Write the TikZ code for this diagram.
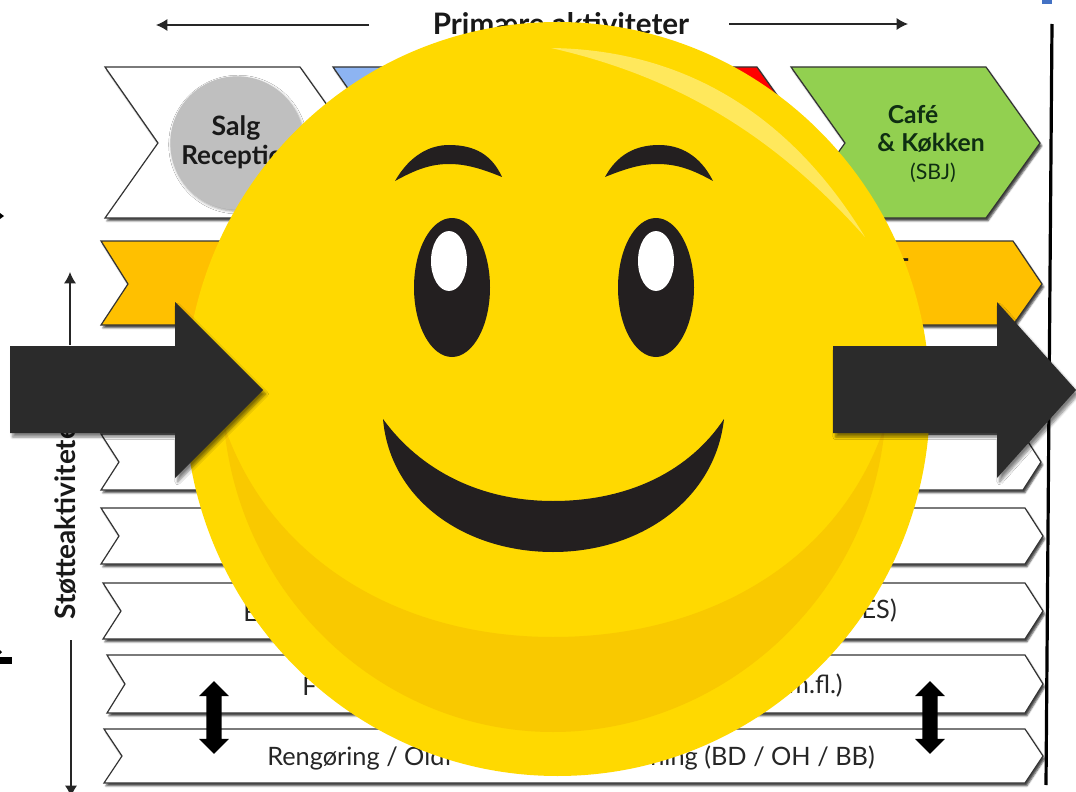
\documentclass[tikz,border=0pt]{standalone}
\usepackage{fontspec}
\setmainfont{Lato}
\usepackage{tikz}
\usetikzlibrary{shapes.arrows,arrows.meta,shadows.blur}
\definecolor{faceyellow}{HTML}{FFD900}
\definecolor{facefold}{HTML}{F9C900}
\definecolor{faceshine}{HTML}{FFE85C}
\definecolor{faceink}{HTML}{231F20}
\definecolor{bigarrow}{HTML}{2B2B2B}
\definecolor{bandblue}{HTML}{8DB4F2}
\definecolor{bandgreen}{HTML}{92D050}
\definecolor{bandorange}{HTML}{FFC000}
\definecolor{greentext}{HTML}{0F2E12}
\definecolor{cornerblue}{HTML}{4472C4}

\begin{document}
\begin{tikzpicture}[
  x=.75pt, y=-.75pt,
  band/.style={draw=black!80, line width=.9pt, line join=miter, blur shadow={shadow xshift=1.4pt, shadow yshift=-2.2pt, shadow blur steps=4, shadow opacity=70, shadow blur radius=1.2pt}},
  flow/.style={draw=black!85, line width=.9pt, -{Latex[length=8.5pt,width=9pt]}},
  bold/.style={font=\fontsize{18.5}{20}\selectfont\bfseries, text=black!90, inner sep=0pt},
  rowtext/.style={font=\fontsize{19}{20}\selectfont, text=black!85, inner sep=0pt},
  swap/.style={double arrow, rotate=90, fill=black, inner sep=0pt, minimum height=54.5pt, text height=11pt, text depth=0pt, double arrow head extend=5.5pt},
  bigpush/.style={fill=bigarrow, blur shadow={shadow xshift=2pt, shadow yshift=-3pt, shadow blur steps=6, shadow opacity=50}},
]
  \useasboundingbox (0,0) rectangle (1076,792);

  % top row
  \draw[band, fill=white]      (105,67) -- (300,67) -- (354,143) -- (300,218) -- (105,218) -- (158,143) -- cycle;
  \draw[band, fill=bandblue]   (333,67) -- (528,67) -- (582,143) -- (528,218) -- (333,218) -- (386,143) -- cycle;
  \draw[band, fill=red]        (562,67) -- (757,67) -- (811,143) -- (757,218) -- (562,218) -- (615,143) -- cycle;
  \draw[band, fill=bandgreen]  (791,67) -- (986,67) -- (1040,143) -- (986,218) -- (791,218) -- (845,143) -- cycle;
  \node[circle, fill=black!25, minimum size=100pt, inner sep=0pt, blur shadow={shadow xshift=.8pt, shadow yshift=-1.2pt, shadow blur steps=4}] (salgdisc) at (237,143) {};
  \node[bold, font=\fontsize{20}{22}\selectfont\bfseries] (salg) at (236,128) {Salg};
  \node[bold, font=\fontsize{19.5}{22}\selectfont\bfseries, anchor=west] (reception) at (181,157) {Reception};
  \node[bold, text=greentext] (cafe) at (913,115) {Café};
  \node[bold, text=greentext] (kokken) at (931,143) {\& Køkken};
  \node[rowtext, font=\fontsize{16}{18}\selectfont, text=greentext] (sbj) at (933,173) {(SBJ)};

  % support rows
  \draw[band, fill=bandorange] (101,241) -- (1013,241) -- (1042,284) -- (1013,325) -- (101,325) -- (128,284) -- cycle;
  \draw[band, fill=white] (101,434) -- (1023,434) -- (1041,462) -- (1023,490) -- (101,490) -- (119,462) -- cycle;
  \draw[band, fill=white] (101,508) -- (1025,508) -- (1043,536) -- (1025,564) -- (101,564) -- (119,536) -- cycle;
  \draw[band, fill=white] (103,583) -- (1025,583) -- (1043,611) -- (1025,639) -- (103,639) -- (121,611) -- cycle;
  \draw[band, fill=white] (107,655) -- (1025,655) -- (1043,684) -- (1025,713) -- (107,713) -- (125,684) -- cycle;
  \draw[band, fill=white] (104,729) -- (1025,729) -- (1043,756) -- (1025,783) -- (104,783) -- (122,756) -- cycle;

  \node[bold, anchor=east] (orangeend) at (909,268) {T};
  \node[rowtext, anchor=west] (esstart) at (243,612) {E};
  \node[rowtext, anchor=east] (esend) at (897,611) {ES)};
  \node[rowtext, anchor=west] (flstart) at (302,686) {F};
  \node[rowtext, anchor=east] (flend) at (843,686) {m.fl.)};
  \node[rowtext, anchor=west] (rengstart) at (267,758) {Rengøring / Oldf};
  \node[rowtext, anchor=east] (rengend) at (875,758) {ning (BD / OH / BB)};

  \node[swap] (swapleft) at (214,717.5) {};
  \node[swap] (swapright) at (930,717.5) {};

  % headings and their arrows
  \node[bold, font=\fontsize{22.2}{24}\selectfont\bfseries] (primary) at (561,24) {Primære aktiviteter};
  \coordinate (primleftfrom) at (369,25);
  \coordinate (primlefttip) at (156,25);
  \coordinate (primrightfrom) at (729,24);
  \coordinate (primrighttip) at (908,24);
  \draw[flow] (primleftfrom) -- (primlefttip);
  \draw[flow] (primrightfrom) -- (primrighttip);

  \node[bold, rotate=90, anchor=west, font=\fontsize{21}{23}\selectfont\bfseries] (support) at (66,620) {Støtteaktiviteter};
  \coordinate (supupfrom) at (70,345);
  \coordinate (supuptip) at (70,272);
  \coordinate (supdownfrom) at (71,640);
  \coordinate (supdowntip) at (71,797);
  \draw[flow] (supupfrom) -- (supuptip);
  \draw[flow] (supdownfrom) -- (supdowntip);

  % right rule and the stray bits at the edges
  \draw[line width=2.4pt] (1052,24) -- (1046,785);
  \fill[cornerblue] (1042,0) rectangle (1052,4);
  \fill (0,213) -- (4,216) -- (0,219) -- cycle;
  \fill (0,657) rectangle (12,664);
  \fill (0,650) -- (2,652) -- (0,654) -- cycle;

  % face
  \fill[faceyellow] (557.5,399) ellipse [x radius=372.5, y radius=377];
  \fill[facefold] (224,425) .. controls (270,560) and (400,637) .. (553,637) .. controls (710,637) and (840,560) .. (885,425) .. controls (870,600) and (720,732) .. (553,732) .. controls (385,732) and (240,600) .. (224,425) -- cycle;
  \fill[faceshine] (551,48) .. controls (700,50) and (800,130) .. (865,237) .. controls (770,130) and (670,75) .. (551,48) -- cycle;
  \fill[faceink] (395,181) .. controls (410,155) and (430,145) .. (449,145) .. controls (475,145) and (492,155) .. (502,177) .. controls (480,168) and (465,164) .. (449,164) .. controls (430,164) and (415,170) .. (395,181) -- cycle;
  \fill[faceink] (713,181) .. controls (700,155) and (680,145) .. (659,145) .. controls (635,145) and (617,155) .. (605,177) .. controls (627,168) and (642,164) .. (657,164) .. controls (678,164) and (693,170) .. (713,181) -- cycle;
  \fill[faceink] (452,287.5) ellipse [x radius=38, y radius=69.5];
  \fill[faceink] (656,287.5) ellipse [x radius=38, y radius=69.5];
  \fill[white] (449,261) ellipse [x radius=18, y radius=30];
  \fill[white] (656,261) ellipse [x radius=18, y radius=30];
  \fill[faceink] (383,419) .. controls (420,470) and (480,501) .. (553,501) .. controls (630,501) and (690,470) .. (724,419) .. controls (715,500) and (640,552) .. (553,552) .. controls (465,552) and (390,500) .. (383,419) -- cycle;

  % big arrows
  \path[bigpush] (10,346) -- (175,346) -- (175,302) -- (263,390) -- (175,478) -- (175,433) -- (10,433) -- cycle;
  \path[bigpush] (833,346) -- (997,346) -- (997,302) -- (1076,390) -- (997,478) -- (997,433) -- (833,433) -- cycle;
\end{tikzpicture}
\end{document}
